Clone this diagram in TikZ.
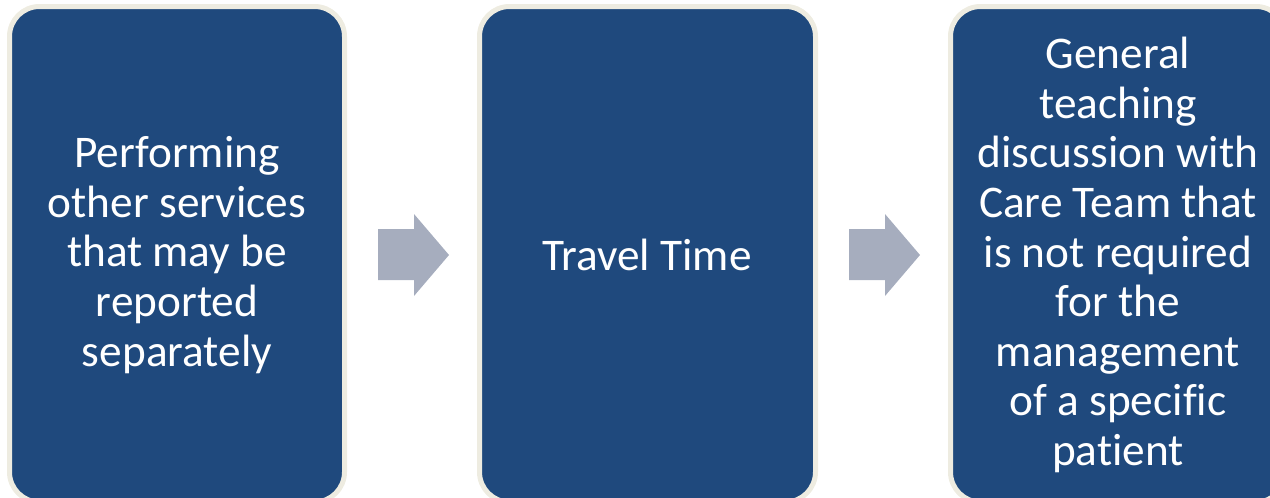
\documentclass[tikz,border=0pt]{standalone}
\usepackage{fontspec}
\setmainfont[Ligatures={NoCommon}]{Carlito}
\definecolor{boxblue}{HTML}{1F497D}
\definecolor{boxrim}{HTML}{EEECE1}
\definecolor{arrowgray}{HTML}{A6ADBE}
\begin{document}
\begin{tikzpicture}[x=1pt,y=-1pt,
  stepbox/.style={draw=boxrim,line width=5pt,fill=boxblue,rounded corners=30pt},
  boxtext/.style={text=white,align=center,font=\fontsize{45.3}{49.6}\selectfont,inner sep=0pt},
  flowarrow/.style={fill=arrowgray,draw=none}]
\useasboundingbox (0,0) rectangle (1270,498);
\clip (0,0) rectangle (1270,498);
% boxes
\draw[stepbox] (9.5,6.5) rectangle (344.5,502);
\draw[stepbox] (479.5,6.5) rectangle (815.5,502);
\draw[stepbox] (950.5,6.5) rectangle (1286,502);
% arrows
\fill[flowarrow] (378,229) -- (414,229) -- (414,214) -- (449,255) -- (414,296) -- (414,280) -- (378,280) -- cycle;
\fill[flowarrow] (849,229) -- (885,229) -- (885,214) -- (920,255) -- (885,296) -- (885,280) -- (849,280) -- cycle;
% texts
\node[boxtext] (t1) at (177,255) {Performing\\other services\\that may be\\reported\\separately};
\node[boxtext] (t2) at (647,255) {Travel Time};
\node[boxtext] (t3) at (1118,255) {General\\teaching\\discussion with\\Care Team that\\is not required\\for the\\management\\of a specific\\patient};
\end{tikzpicture}
\end{document}
